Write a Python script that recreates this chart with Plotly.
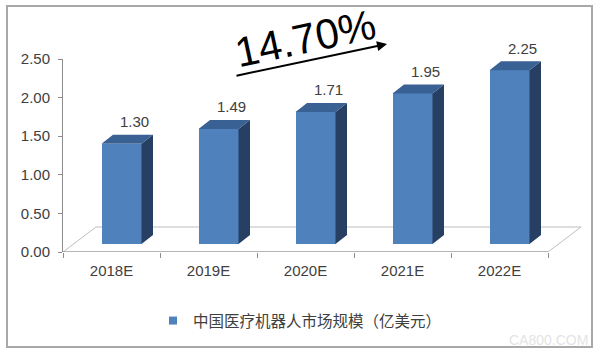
import plotly.graph_objects as go

# ---- data ----
categories = ["2018E", "2019E", "2020E", "2021E", "2022E"]
values = [1.30, 1.49, 1.71, 1.95, 2.25]
value_labels = ["1.30", "1.49", "1.71", "1.95", "2.25"]
y_ticks = [0.0, 0.5, 1.0, 1.5, 2.0, 2.5]
series_name = "中国医疗机器人市场规模（亿美元）"
cagr_text = "14.70%"

# ---- geometry / style constants (pixels) ----
W, H = 600, 354
ML, MR, MT, MB = 63, 15, 59, 102
PLOT_W = W - ML - MR
PLOT_H = H - MT - MB
PX_PER_CAT = 97.0
YMAX = 2.5
PX_PER_Y = PLOT_H / YMAX

def ux(px):
    return px / PX_PER_CAT

def uy(px):
    return px / PX_PER_Y

def paper_x(px):
    return (px - ML) / PLOT_W

def paper_y(py):
    return (H - MB - py) / PLOT_H

FRONT = "#4F81BD"
SIDE = "#263F63"
TOP = "#3A6194"
TEXT = "#404040"
AXIS = "#8C8C8C"
LATIN = "Liberation Sans, Arial, sans-serif"
CJK = "Noto Sans CJK SC, sans-serif"

shift_x, lift, face_w = 10, 8, 40
depth_x, depth_y = 11.5, 9
floor_dx, floor_dy = 33, 25

pos = list(range(len(categories)))
xmax = -0.5 + PLOT_W / PX_PER_CAT

fig = go.Figure()

# front faces
fig.add_trace(go.Bar(
    x=[p + ux(shift_x) for p in pos],
    y=values,
    base=uy(lift),
    width=ux(face_w),
    marker=dict(color=FRONT, line=dict(width=0)),
    showlegend=False,
    hoverinfo="skip",
))

# side and top faces
sx, sy, tx, ty = [], [], [], []
for p, v in zip(pos, values):
    xl = p + ux(shift_x - face_w / 2)
    xr = p + ux(shift_x + face_w / 2)
    b = uy(lift)
    t = v + b
    ddx, ddy = ux(depth_x), uy(depth_y)
    sx += [xr, xr + ddx, xr + ddx, xr, xr, None]
    sy += [b, b + ddy, t + ddy, t, b, None]
    tx += [xl, xr, xr + ddx, xl + ddx, xl, None]
    ty += [t, t, t + ddy, t + ddy, t, None]

fig.add_trace(go.Scatter(x=sx, y=sy, fill="toself", fillcolor=SIDE, mode="lines",
                         line=dict(width=0, color=SIDE), showlegend=False, hoverinfo="skip"))
fig.add_trace(go.Scatter(x=tx, y=ty, fill="toself", fillcolor=TOP, mode="lines",
                         line=dict(width=0, color=TOP), showlegend=False, hoverinfo="skip"))

# legend entry
fig.add_trace(go.Scatter(
    x=[None], y=[None], mode="markers", name=series_name,
    marker=dict(symbol="square", size=8, color=FRONT),
))

# floor
fx0, fx1 = -0.5, len(categories) - 0.5
floor_path = (f"M {fx0},0 L {fx1},0 L {fx1 + ux(floor_dx)},{uy(floor_dy)} "
              f"L {fx0 + ux(floor_dx)},{uy(floor_dy)} Z")
shapes = [
    dict(type="path", path=floor_path, xref="x", yref="y", layer="below",
         fillcolor="white", line=dict(color="#BDBDBD", width=1)),
    dict(type="line", xref="x", yref="y", x0=fx0, x1=fx1, y0=0, y1=0,
         line=dict(color=AXIS, width=1), layer="above"),
    dict(type="rect", xref="paper", yref="paper",
         x0=paper_x(7), x1=paper_x(592), y0=paper_y(347), y1=paper_y(6),
         line=dict(color="#A8A8A8", width=2)),
]

annotations = []
# value labels (anchored at the bar top, shifted in pixels)
for p, v, lab in zip(pos, values, value_labels):
    annotations.append(dict(
        text=lab, xref="x", yref="y", x=p + ux(23), y=v + uy(lift),
        yshift=22, xanchor="center", yanchor="middle", showarrow=False,
        font=dict(family=LATIN, size=15, color=TEXT)))

annotations += [
    dict(text=cagr_text, xref="paper", yref="paper", x=paper_x(305), y=paper_y(38),
         xanchor="center", yanchor="middle",
         showarrow=False, textangle=-12, font=dict(family=LATIN, size=42, color="black")),
    dict(text="", xref="paper", yref="paper", x=paper_x(387), y=paper_y(44),
         ax=235 - 387, ay=76 - 44, showarrow=True, arrowhead=2, arrowsize=1,
         arrowwidth=2, arrowcolor="black", standoff=0),
    dict(text="CA800.COM", xref="paper", yref="paper", x=paper_x(548), y=paper_y(340),
         xanchor="center", yanchor="middle",
         showarrow=False, font=dict(family=LATIN, size=14, color="#E4E4E4")),
]

fig.update_layout(
    width=W, height=H,
    margin=dict(l=ML, r=MR, t=MT, b=MB),
    paper_bgcolor="white", plot_bgcolor="white",
    shapes=shapes, annotations=annotations,
    showlegend=True,
    legend=dict(orientation="h", x=paper_x(153), xanchor="left",
                y=paper_y(321), yanchor="middle",
                font=dict(family=CJK, size=15.5, color=TEXT),
                bgcolor="rgba(0,0,0,0)"),
    xaxis=dict(range=[-0.5, xmax], tickvals=pos, ticktext=categories,
               showgrid=False, zeroline=False, showline=False, ticks="",
               tickfont=dict(family=LATIN, size=15, color=TEXT),
               ticklabelstandoff=8,
               minor=dict(tickvals=[p - 0.5 for p in pos] + [pos[-1] + 0.5],
                          ticks="outside", ticklen=5, tickcolor=AXIS, showgrid=False),
               fixedrange=True),
    yaxis=dict(range=[0, YMAX], tickvals=y_ticks, tickformat=".2f",
               showgrid=False, zeroline=False, showline=True, linecolor=AXIS, linewidth=1,
               ticks="outside", ticklen=4, tickcolor=AXIS,
               tickfont=dict(family=LATIN, size=15, color=TEXT),
               ticklabelstandoff=5,
               fixedrange=True),
    bargap=0,
)

fig.write_html("out.html")
